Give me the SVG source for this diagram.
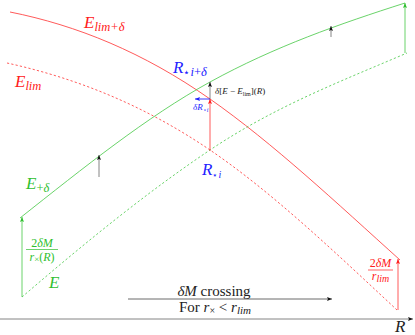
<svg xmlns="http://www.w3.org/2000/svg" width="415" height="335" viewBox="0 0 415 335">
<style>
.r{stroke:#ff3030;stroke-width:0.8;fill:none}
.g{stroke:#44c844;stroke-width:0.8;fill:none}
.d{stroke-dasharray:2.2,2.2}
.k{stroke:#666;stroke-width:0.8;fill:none}
.b{stroke:#2020ff;stroke-width:0.9;fill:none}
text{font-family:"Liberation Serif","DejaVu Serif",serif}
.i{font-style:italic}
.tr{fill:#ff2020}
.tg{fill:#2fbf2f}
.tb{fill:#2222ff}
.tk{fill:#222}
</style>
<defs>
<marker id="ak" markerWidth="6" markerHeight="4" refX="5" refY="2" orient="auto" markerUnits="userSpaceOnUse"><path d="M0,0 L5,2 L0,4 L1,2 z" fill="#111"/></marker>
<marker id="ar" markerWidth="6" markerHeight="4" refX="5" refY="2" orient="auto" markerUnits="userSpaceOnUse"><path d="M0,0 L5,2 L0,4 L1,2 z" fill="#ff2020"/></marker>
<marker id="ag" markerWidth="6" markerHeight="4" refX="5" refY="2" orient="auto" markerUnits="userSpaceOnUse"><path d="M0,0 L5,2 L0,4 L1,2 z" fill="#2fbf2f"/></marker>
<marker id="ab" markerWidth="6" markerHeight="4" refX="5" refY="2" orient="auto" markerUnits="userSpaceOnUse"><path d="M0,0 L5,2 L0,4 L1,2 z" fill="#2020ff"/></marker>
</defs>

<g id="curves">
<path id="Elimd" class="r" d="M10,12 C76.7,25.3 143.3,52.3 210,99 C273.3,143.3 336.7,203 400,260"/>
<path id="Elim" class="r d" d="M7,63 C74.7,77.9 142.3,104 210,150 C272.3,192.4 334.7,252 397,310"/>
<path id="Ed" class="g" d="M20,218 C83.3,168 146.7,116.8 210,82 C275,46.3 340,23.8 405,3"/>
<path id="E" class="g d" d="M22,297 C84.7,243 147.3,192 210,150 C275.7,106 341.3,81.2 407,53"/>
</g>

<g id="connectors">
<line class="k" x1="0" y1="319" x2="413" y2="319" marker-end="url(#ak)"/>
<line class="k" x1="128" y1="299" x2="332" y2="299" marker-end="url(#ak)" style="stroke:#444"/>
<line class="g" x1="22" y1="297" x2="22" y2="217" marker-end="url(#ag)"/>
<line class="g" x1="405" y1="53" x2="405" y2="3" marker-end="url(#ag)"/>
<line class="r" x1="398" y1="310" x2="398" y2="259" marker-end="url(#ar)"/>
<line class="r" x1="210" y1="151" x2="210" y2="99" marker-end="url(#ar)"/>
<line class="k" x1="210" y1="99" x2="210" y2="82" marker-end="url(#ak)"/>
<line class="k" x1="99" y1="177" x2="99" y2="155" marker-end="url(#ak)"/>
<line class="k" x1="331" y1="37" x2="331" y2="26" marker-end="url(#ak)"/>
<line class="b" x1="210" y1="99" x2="195" y2="99" marker-end="url(#ab)"/>
</g>

<g id="labels">
<text class="tr" x="84" y="28"><tspan class="i" font-size="17">E</tspan><tspan class="i" font-size="12.5" dy="3">lim+δ</tspan></text>
<text class="tr" x="15" y="87"><tspan class="i" font-size="17">E</tspan><tspan class="i" font-size="12.5" dy="3">lim</tspan></text>
<text class="tg" x="26" y="189"><tspan class="i" font-size="17">E</tspan><tspan font-size="12.5" dy="3">+</tspan><tspan class="i" font-size="12.5">δ</tspan></text>
<text class="tg i" x="49" y="288" font-size="17">E</text>
<text class="tb" x="173" y="73"><tspan class="i" font-size="17">R</tspan><tspan font-size="11" dy="3">⋆</tspan><tspan class="i" font-size="12.5">i</tspan><tspan font-size="12.5">+</tspan><tspan class="i" font-size="12.5">δ</tspan></text>
<text class="tb" x="202" y="175"><tspan class="i" font-size="17">R</tspan><tspan font-size="9" dy="3">⋆</tspan><tspan class="i" font-size="10">i</tspan></text>
<text class="tk" x="215" y="94" font-size="9"><tspan class="i">δ</tspan>[<tspan class="i">E</tspan> − <tspan class="i">E</tspan><tspan font-size="6" dy="1.5">lim</tspan><tspan dy="-1.5">](</tspan><tspan class="i">R</tspan>)</text>
<text class="tb" x="193" y="110" font-size="9"><tspan class="i">δR</tspan><tspan font-size="6" dy="1.5">⋆</tspan><tspan class="i" font-size="6">i</tspan></text>
<g id="frac1" class="tg">
<text x="42" y="246.5" font-size="12" text-anchor="middle">2<tspan class="i">δM</tspan></text>
<line x1="26" y1="249.5" x2="58" y2="249.5" stroke="#2fbf2f" stroke-width="0.7"/>
<text x="42" y="260.5" font-size="12" text-anchor="middle"><tspan class="i">r</tspan><tspan font-size="9" dy="1.5">×</tspan><tspan dy="-1.5">(</tspan><tspan class="i">R</tspan>)</text>
</g>
<g id="frac2" class="tr">
<text x="380.5" y="266.5" font-size="12" text-anchor="middle">2<tspan class="i">δM</tspan></text>
<line x1="368" y1="270" x2="393" y2="270" stroke="#ff2020" stroke-width="0.7"/>
<text x="380.5" y="279.5" font-size="12" text-anchor="middle"><tspan class="i">r</tspan><tspan class="i" font-size="10" dy="2">lim</tspan></text>
</g>
<text class="tk" x="214" y="296" font-size="15" text-anchor="middle"><tspan class="i">δM</tspan> crossing</text>
<text class="tk" x="215" y="312" font-size="15" text-anchor="middle">For <tspan class="i">r</tspan><tspan font-size="10" dy="2">×</tspan><tspan dy="-2"> &lt; </tspan><tspan class="i">r</tspan><tspan class="i" font-size="11" dy="2">lim</tspan></text>
<text class="tk i" x="395" y="332" font-size="17">R</text>
</g>
</svg>
